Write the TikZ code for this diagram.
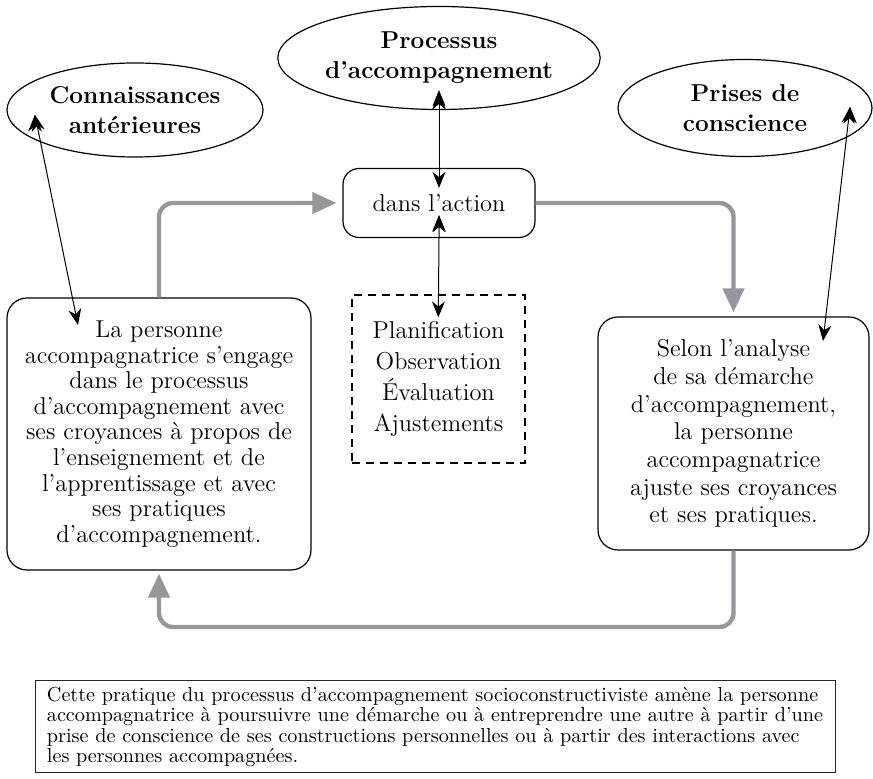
\documentclass[tikz,border=0pt]{standalone}
\usetikzlibrary{shapes,arrows.meta}
\definecolor{flowgray}{RGB}{150,151,156}

\begin{document}
\begin{tikzpicture}[x=0.5pt,y=-0.5pt,
  oval/.style={shape=ellipse,draw=black,line width=0.6pt,align=center,inner sep=0pt,font=\fontsize{12.2}{15}\selectfont\bfseries},
  box/.style={shape=rectangle,rounded corners=10pt,draw=black,line width=0.6pt,align=center,inner sep=0pt},
  cycleflow/.style={draw=flowgray,line width=2.2pt,rounded corners=7pt,-{Triangle[length=12pt,width=10.5pt]}},
  twoway/.style={draw=black,line width=0.5pt,{Stealth[length=8pt,width=6.5pt]}-{Stealth[length=8pt,width=6.5pt]}}]
\useasboundingbox (0,0) rectangle (873,779);
\node[oval,minimum width=128pt,minimum height=47pt] (0) at (135,110) {Connaissances\\antérieures};
\node[oval,minimum width=144pt,minimum height=51.5pt] (1) at (439,58) {Processus\\d’accompagnement};
\node[oval,minimum width=127pt,minimum height=48.5pt] (2) at (745,108) {Prises de\\conscience};
\node[box,rounded corners=8pt,minimum width=96pt,minimum height=34.5pt,font=\fontsize{12.2}{14}\selectfont] (3) at (439,203) {dans l’action};
\node[shape=rectangle,draw=black,line width=0.6pt,dash pattern=on 4pt off 3pt,align=center,inner sep=0pt,minimum width=86.5pt,minimum height=84pt,font=\fontsize{12.2}{15.5}\selectfont] (4) at (438.5,379) {Planification\\Observation\\Évaluation\\Ajustements};
\node[box,minimum width=152pt,minimum height=136pt,font=\fontsize{12.2}{12.8}\selectfont] (5) at (159,434) {La personne\\accompagnatrice s’engage\\dans le processus\\d’accompagnement avec\\ses croyances à propos de\\l’enseignement et de\\l’apprentissage et avec\\ses pratiques\\d’accompagnement.};
\node[box,minimum width=135.5pt,minimum height=116.5pt,font=\fontsize{12.2}{13.85}\selectfont] (6) at (733.5,433.5) {Selon l’analyse\\de sa démarche\\d’accompagnement,\\la personne\\accompagnatrice\\ajuste ses croyances\\et ses pratiques.};
\node[shape=rectangle,draw=black!85,line width=0.5pt,align=left,inner sep=0pt,minimum width=400pt,minimum height=46pt,font=\fontsize{10.1}{10.2}\selectfont] (7) at (435,727) {Cette pratique du processus d’accompagnement socioconstructiviste amène la personne\\accompagnatrice à poursuivre une démarche ou à entreprendre une autre à partir d’une\\prise de conscience de ses constructions personnelles ou à partir des interactions avec\\les personnes accompagnées.};

\coordinate (8) at (35,115);
\coordinate (9) at (78,325);
\coordinate (10) at (850,107);
\coordinate (11) at (823,341);
\coordinate (12) at (159,627);

\draw[cycleflow,shorten >=3pt] (5.north) |- (3.west);
\draw[cycleflow,shorten >=2pt] (3.east) -| (6.north);
\draw[cycleflow,shorten >=1.5pt] (6.south) |- (12) -- (5.south);

\path[twoway] (8) edge (9);
\path[twoway,shorten <=-8.5pt,shorten >=-10pt] (1.south) edge (3.north);
\path[twoway,shorten <=-11pt,shorten >=-11.5pt] (3.south) edge (4.north);
\path[twoway] (10) edge (11);
\end{tikzpicture}
\end{document}
